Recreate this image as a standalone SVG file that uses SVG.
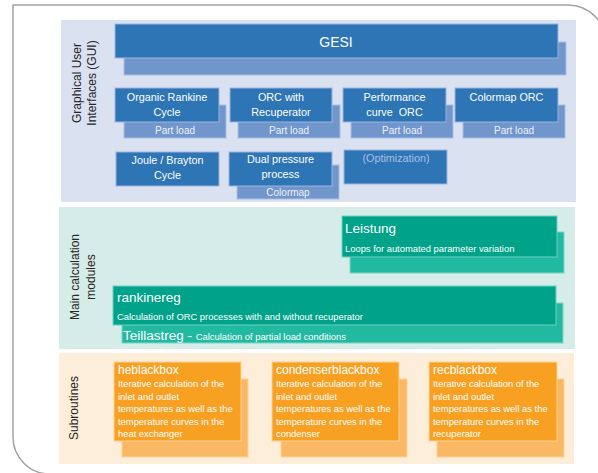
<svg xmlns="http://www.w3.org/2000/svg" width="598" height="473" viewBox="0 0 598 473">
<style>
text{font-family:"Liberation Sans",Arial,sans-serif}
.lbl{fill:#262626;font-size:12px;text-anchor:middle}
.gm{fill:#2e75b6;stroke:#9ab4de;stroke-width:1}
.gs{fill:#7196cc;stroke:#a9bfe4;stroke-width:1}
.gt{fill:#ffffff;font-size:10.8px;text-anchor:middle}
.gp{fill:#eef2fa;font-size:10px;text-anchor:middle}
.tm{fill:#00a38a;stroke:#6fd0bf;stroke-width:1}
.ts{fill:#22b9a1;stroke:#7fd6c6;stroke-width:1}
.tt{fill:#ffffff}
.om{fill:#f7a022;stroke:#fcd195;stroke-width:1}
.os{fill:#fbb864;stroke:#fcd195;stroke-width:1}
.ot{fill:#ffffff;font-size:9.4px}
.oh{fill:#ffffff;font-size:12px}
</style>
<path d="M13,5 H568 A38,38 0 0 1 606,43 V474 H50 A37,37 0 0 1 13,437 Z" fill="#ffffff" stroke="#a3a3a3" stroke-width="1.5"/>
<g id="panel-gui">
<rect x="61" y="20" width="515" height="182" fill="#dae1f1"/>
<text class="lbl" transform="translate(81,83) rotate(-90)">Graphical User</text>
<text class="lbl" transform="translate(96,83) rotate(-90)">Interfaces (GUI)</text>
</g>
<g id="panel-main">
<rect x="59" y="207" width="516" height="142" fill="#d6ece8"/>
<text class="lbl" transform="translate(79,277) rotate(-90)">Main calculation</text>
<text class="lbl" transform="translate(95,277) rotate(-90)">modules</text>
</g>
<g id="panel-sub">
<rect x="59" y="353" width="515" height="111" fill="#fdeed9"/>
<text class="lbl" transform="translate(78,408) rotate(-90)">Subroutines</text>
</g>
<g id="gesi">
<rect class="gs" x="124" y="42" width="442" height="33"/>
<rect class="gm" x="115" y="24" width="443" height="34"/>
<text x="336" y="47" fill="#ffffff" font-size="14" text-anchor="middle">GESI</text>
</g>
<g id="orc">
<rect class="gs" x="124" y="105" width="102" height="33"/>
<rect class="gm" x="115" y="88" width="104" height="34"/>
<text class="gt" x="167" y="101">Organic Rankine</text>
<text class="gt" x="167" y="116">Cycle</text>
<text class="gp" x="175" y="134">Part load</text>
</g>
<g id="orc-recup">
<rect class="gs" x="238" y="105" width="102" height="33"/>
<rect class="gm" x="230" y="88" width="102" height="34"/>
<text class="gt" x="281" y="101">ORC with</text>
<text class="gt" x="281" y="116">Recuperator</text>
<text class="gp" x="289" y="134">Part load</text>
</g>
<g id="performance">
<rect class="gs" x="351" y="105" width="102" height="33"/>
<rect class="gm" x="343" y="88" width="103" height="34"/>
<text class="gt" x="394.5" y="101">Performance</text>
<text class="gt" x="394.5" y="116" xml:space="preserve">curve  ORC</text>
<text class="gp" x="402" y="134">Part load</text>
</g>
<g id="colormap-orc">
<rect class="gs" x="463" y="105" width="102" height="33"/>
<rect class="gm" x="455" y="88" width="103" height="34"/>
<text class="gt" x="506.5" y="101">Colormap ORC</text>
<text class="gp" x="514" y="134">Part load</text>
</g>
<g id="joule">
<rect class="gm" x="116" y="152" width="103" height="34"/>
<text class="gt" x="167.5" y="164">Joule / Brayton</text>
<text class="gt" x="167.5" y="179">Cycle</text>
</g>
<g id="dual">
<rect class="gs" x="237" y="165" width="102" height="34"/>
<rect class="gm" x="229" y="152" width="103" height="34"/>
<text class="gt" x="280.5" y="163">Dual pressure</text>
<text class="gt" x="280.5" y="178">process</text>
<text class="gp" x="288" y="196">Colormap</text>
</g>
<g id="optimization">
<rect class="gm" x="344" y="150" width="103" height="34"/>
<text x="396" y="162" fill="#a9bfe4" font-size="10.8" text-anchor="middle">(Optimization)</text>
</g>
<g id="leistung">
<rect class="ts" x="350" y="232" width="214" height="41"/>
<rect class="tm" x="342" y="216" width="215" height="41"/>
<text class="tt" x="345" y="233" font-size="13.5">Leistung</text>
<text class="tt" x="345" y="252" font-size="9.4">Loops for automated parameter variation</text>
</g>
<g id="rankinereg">
<rect class="ts" x="122" y="303" width="441" height="40"/>
<rect class="tm" x="113" y="286" width="443" height="39"/>
<text class="tt" x="117" y="302" font-size="13.5">rankinereg</text>
<text class="tt" x="117" y="320" font-size="9.4">Calculation of ORC processes with and without recuperator</text>
<text class="tt" x="123" y="340" font-size="13.5">Teillastreg - <tspan font-size="9.4">Calculation of partial load conditions</tspan></text>
</g>
<g id="heblackbox">
<rect class="os" x="122" y="379" width="126" height="78"/>
<rect class="om" x="114" y="362" width="127" height="79"/>
<text class="oh" x="118" y="374">heblackbox</text>
<text class="ot" x="118" y="387">Iterative calculation of the</text>
<text class="ot" x="118" y="399.5">inlet and outlet</text>
<text class="ot" x="118" y="412">temperatures as well as the</text>
<text class="ot" x="118" y="424.5">temperature curves in the</text>
<text class="ot" x="118" y="437">heat exchanger</text>
</g>
<g id="condenserblackbox">
<rect class="os" x="281" y="379" width="126" height="78"/>
<rect class="om" x="272" y="362" width="127" height="79"/>
<text class="oh" x="276" y="374">condenserblackbox</text>
<text class="ot" x="276" y="387">Iterative calculation of the</text>
<text class="ot" x="276" y="399.5">inlet and outlet</text>
<text class="ot" x="276" y="412">temperatures as well as the</text>
<text class="ot" x="276" y="424.5">temperature curves in the</text>
<text class="ot" x="276" y="437">condenser</text>
</g>
<g id="recblackbox">
<rect class="os" x="437" y="379" width="127" height="78"/>
<rect class="om" x="429" y="362" width="128" height="79"/>
<text class="oh" x="433" y="374">recblackbox</text>
<text class="ot" x="433" y="387">Iterative calculation of the</text>
<text class="ot" x="433" y="399.5">inlet and outlet</text>
<text class="ot" x="433" y="412">temperatures as well as the</text>
<text class="ot" x="433" y="424.5">temperature curves in the</text>
<text class="ot" x="433" y="437">recuperator</text>
</g>
<g id="connectors"></g>
</svg>
